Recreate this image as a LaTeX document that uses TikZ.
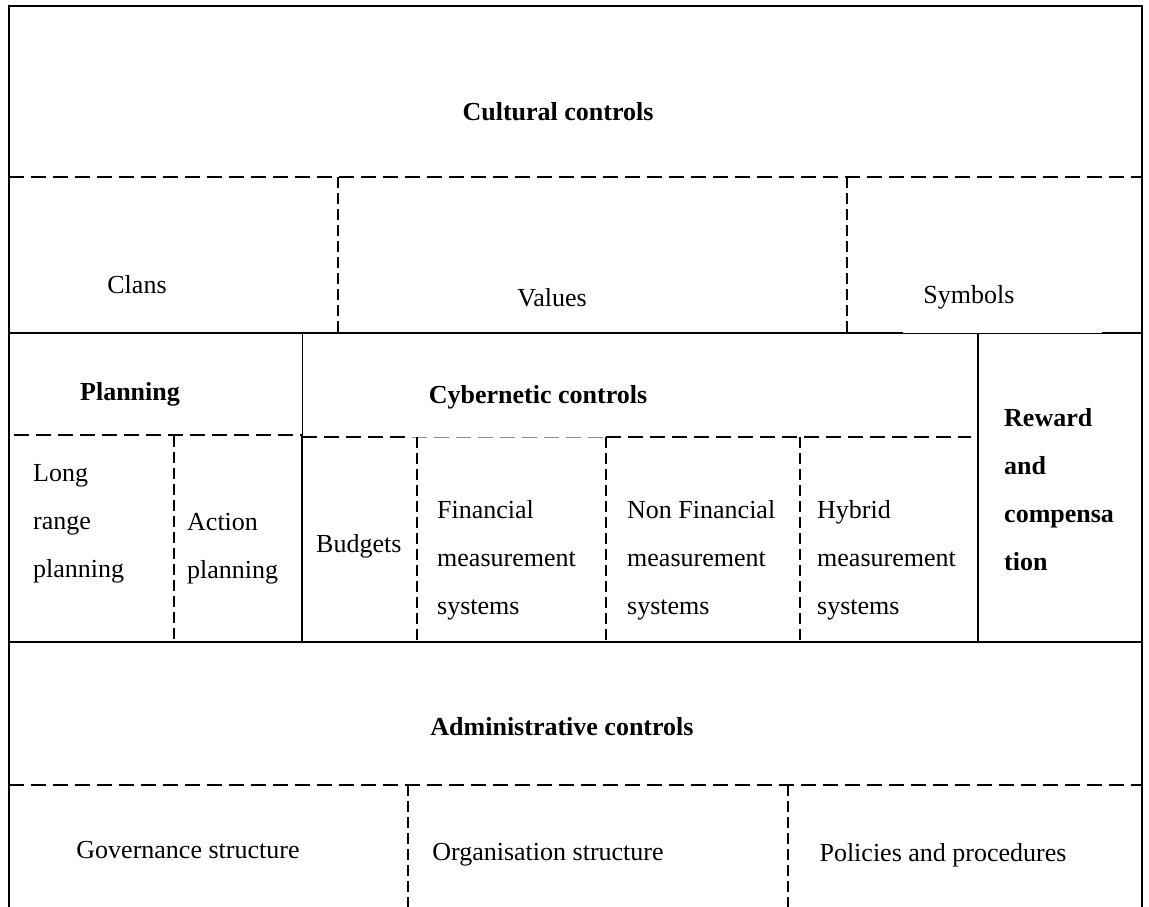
\documentclass[tikz,border=0pt]{standalone}
\usepackage{fontspec}
\setmainfont{Liberation Serif}
\begin{document}
\begin{tikzpicture}[x=1pt,y=-1pt,
  frame/.style={line width=1.8pt},
  heavy/.style={line width=2.8pt},
  fine/.style={line width=1pt},
  hdash/.style={line width=1.8pt, dash pattern=on 15pt off 7pt},
  vdash/.style={line width=1.6pt, dash pattern=on 11pt off 5pt},
  faint/.style={line width=1pt, draw=black!45, dash pattern=on 15pt off 7pt},
  txt/.style={inner sep=0pt, font=\fontsize{26}{48}\selectfont},
  head/.style={inner sep=0pt, font=\fontsize{26}{48}\selectfont\bfseries},
  cell/.style={txt, align=left, anchor=west},
  headcell/.style={head, align=left, anchor=west}
]
\useasboundingbox (0,0) rectangle (1149,907);
\clip (0,0) rectangle (1149,907);

% outer frame (open at the bottom)
\draw[frame] (9,907) -- (9,6) -- (1142,6) -- (1142,907);

% cultural controls band
\draw[hdash] (9,177) -- (1142,177);
\draw[vdash] (338,177) -- (338,333);
\draw[vdash] (847,177) -- (847,333);

% boundary between cultural and planning / cybernetic bands
\draw[heavy] (9,333) -- (903,333);
\draw[fine]  (903,333) -- (1102,333);
\draw[heavy] (1102,333) -- (1142,333);

% planning | cybernetic | reward columns
\draw[fine]  (302,333) -- (302,436);
\draw[heavy] (302,436) -- (302,642);
\draw[heavy] (978,333) -- (978,642);

% sub-headings rule
\draw[hdash] (14,435) -- (302,435);
\draw[hdash] (302,437) -- (412,437);
\draw[faint] (412,437) -- (606,437);
\draw[hdash] (606,437) -- (971,437);

% sub-columns
\draw[vdash] (174,436) -- (174,642);
\draw[vdash] (417,437) -- (417,642);
\draw[vdash] (606,437) -- (606,642);
\draw[vdash] (800,437) -- (800,642);

% administrative controls band
\draw[heavy] (9,642) -- (1142,642);
\draw[hdash] (9,785) -- (1142,785);
\draw[vdash] (408,785) -- (408,907);
\draw[vdash] (788,785) -- (788,907);

% texts
\node[head] (cult) at (558,112) {Cultural controls};
\node[txt] (clans) at (137,285) {Clans};
\node[txt] (values) at (552,298) {Values};
\node[txt] (symbols) at (969,297) {Symbols};

\node[head] (plan) at (130,394) {Planning};
\node[head] (cyber) at (538,397) {Cybernetic controls};
\node[headcell] (reward) at (1004,490) {Reward\\and\\compensa\\tion};

\node[cell] (longrange) at (33,524) {Long\\range\\planning};
\node[cell] (action) at (187,549) {Action\\planning};
\node[cell] (budgets) at (316,546) {Budgets};
\node[cell] (fin) at (437,560) {Financial\\measurement\\systems};
\node[cell] (nonfin) at (627,560) {Non Financial\\measurement\\systems};
\node[cell] (hybrid) at (817,560) {Hybrid\\measurement\\systems};

\node[head] (admin) at (562,727) {Administrative controls};
\node[txt] (gov) at (188,850) {Governance structure};
\node[txt] (org) at (548,855) {Organisation structure};
\node[txt] (pol) at (943,855) {Policies and procedures};
\end{tikzpicture}
\end{document}
